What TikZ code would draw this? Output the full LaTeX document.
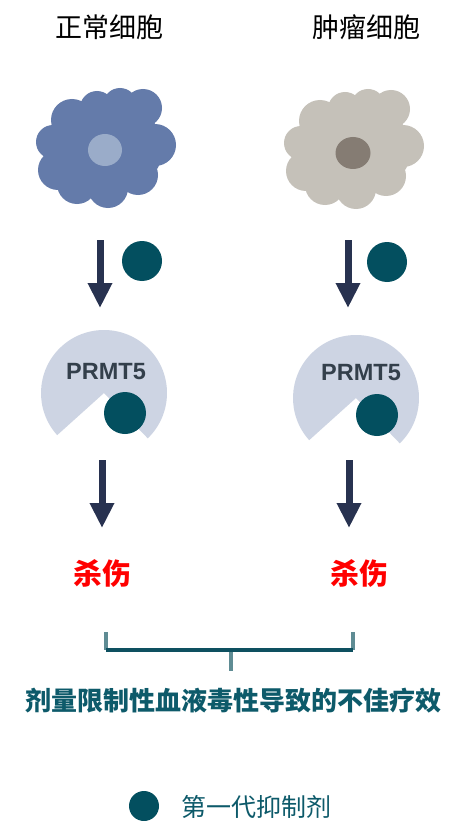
\documentclass[tikz,border=0pt]{standalone}
\usepackage{fontspec}
\setmainfont{Liberation Sans}
\newfontfamily\cjk{Noto Sans CJK SC}
\usetikzlibrary{arrows.meta}

\definecolor{cellblue}{HTML}{647BAA}
\definecolor{nucblue}{HTML}{9AACC9}
\definecolor{cellgrey}{HTML}{C5C1B9}
\definecolor{nucgrey}{HTML}{857C73}
\definecolor{arrownavy}{HTML}{283250}
\definecolor{drugteal}{HTML}{034F5F}
\definecolor{enzyme}{HTML}{CDD4E3}
\definecolor{enzymetext}{HTML}{333F4B}
\definecolor{killred}{HTML}{FF0000}
\definecolor{bracketdark}{HTML}{0E5060}
\definecolor{bracketlight}{HTML}{5F8C94}
\definecolor{noteteal}{HTML}{0D5A6A}

\tikzset{
  title/.style={font=\cjk\fontsize{27}{30}\selectfont, text=black, inner sep=0pt},
  drug/.style={circle, fill=drugteal, inner sep=0pt, minimum size=40pt},
  flow/.style={draw=arrownavy, line width=7pt, -{Triangle[width=23pt,length=25pt]}},
  enzymelabel/.style={font=\bfseries\fontsize{23.5}{26}\selectfont, text=enzymetext, inner sep=0pt},
  kill/.style={font=\cjk\bfseries\fontsize{29}{32}\selectfont, text=killred, inner sep=0pt},
  note/.style={font=\cjk\bfseries\fontsize{26}{30}\selectfont, text=noteteal, inner sep=0pt},
  legendtext/.style={font=\cjk\fontsize{25}{28}\selectfont, text=noteteal, inner sep=0pt},
}

% cloud-shaped cell body: a solid core with overlapping discs round its rim
\newcommand{\cellbody}[1]{%
  \fill[#1]
    (0,0) ellipse[x radius=58pt, y radius=48pt]
    (-52,-6) circle[radius=17pt]
    (-47,22) circle[radius=20pt]
    (-28,36) circle[radius=20pt]
    (3,40) circle[radius=20pt]
    (33,27) circle[radius=20pt]
    (50,-3) circle[radius=21pt]
    (38,-40) circle[radius=19pt]
    (15,-43) circle[radius=17pt]
    (-8,-40) circle[radius=17pt]
    (-33,-28) circle[radius=21pt];}

% PRMT5 drawn as a disc with a wedge cut out at the lower right
\newcommand{\enzymeshape}{%
  \fill[enzyme] (0,0) -- ++(-46:63pt) arc[start angle=-46, end angle=222, radius=63pt] -- cycle;}

\begin{document}
\begin{tikzpicture}[x=1pt,y=-1pt]
\useasboundingbox[fill=white] (0,0) rectangle (449,821);

% column headings
\node[title] (tnormal) at (109,27) {正常细胞};
\node[title] (ttumor) at (366,27) {肿瘤细胞};

% cells
\begin{scope}[shift={(105,148)}]
  \cellbody{cellblue}
  \fill[nucblue] (0,2) ellipse[x radius=17pt, y radius=16pt];
\end{scope}
\begin{scope}[shift={(353,149)}]
  \cellbody{cellgrey}
  \fill[nucgrey] (0,4) ellipse[x radius=17.5pt, y radius=16pt];
\end{scope}

% inhibitor added
\coordinate (a1s) at (100,240);
\coordinate (a1e) at (100,308);
\coordinate (a2s) at (348,240);
\coordinate (a2e) at (348,308);
\draw[flow] (a1s) -- (a1e);
\draw[flow] (a2s) -- (a2e);
\node[drug] (d1) at (142,261) {};
\node[drug] (d2) at (387,262) {};

% PRMT5 bound by inhibitor
\begin{scope}[shift={(104,393)}]
  \enzymeshape
\end{scope}
\begin{scope}[shift={(356,398)}]
  \enzymeshape
\end{scope}
\node[enzymelabel] (e1) at (106,372) {PRMT5};
\node[enzymelabel] (e2) at (361,373) {PRMT5};
\node[drug, minimum size=42pt] (b1) at (125,413) {};
\node[drug, minimum size=42pt] (b2) at (377,415) {};

% outcome
\coordinate (c1s) at (102,460);
\coordinate (c1e) at (102,528);
\coordinate (c2s) at (349,460);
\coordinate (c2e) at (349,528);
\draw[flow] (c1s) -- (c1e);
\draw[flow] (c2s) -- (c2e);
\node[kill] (k1) at (102,573) {杀伤};
\node[kill] (k2) at (359,573) {杀伤};

% bracket joining both outcomes
\coordinate (bl) at (106,632);
\coordinate (blb) at (106,650);
\coordinate (br) at (353,632);
\coordinate (brb) at (353,650);
\coordinate (sm) at (231,650);
\coordinate (sb) at (231,671);
\draw[bracketlight, line width=4pt] (bl) -- (blb);
\draw[bracketlight, line width=4pt] (br) -- (brb);
\draw[bracketlight, line width=4pt] (sm) -- (sb);
\draw[bracketdark, line width=3.5pt] (blb) -- (brb);

\node[note] (conclusion) at (233,701) {剂量限制性血液毒性导致的不佳疗效};

% legend
\node[drug, minimum size=30pt] (ld) at (144,806) {};
\node[legendtext, anchor=west] (lt) at (181,807) {第一代抑制剂};
\end{tikzpicture}
\end{document}
